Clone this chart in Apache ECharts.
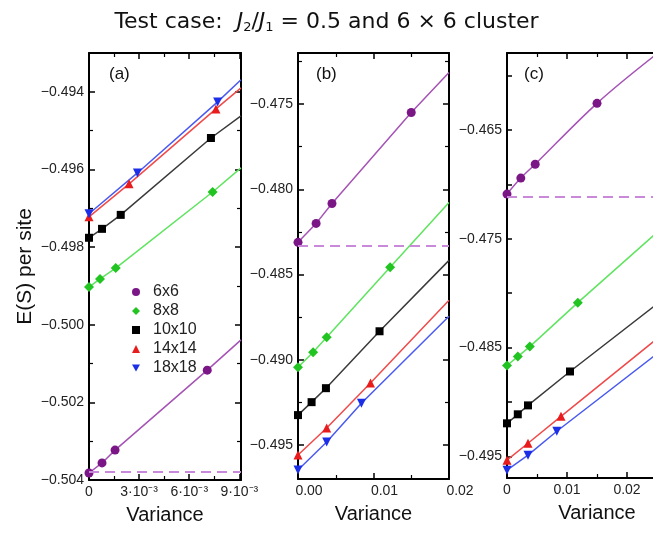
<!DOCTYPE html>
<html><head><meta charset="utf-8">
<script src="https://cdn.jsdelivr.net/npm/echarts@6/dist/echarts.min.js"></script>
<style>html,body{margin:0;padding:0;background:#fff}#c{width:653px;height:533px}</style>
</head><body><div id="c"></div>
<script>
// ---------- data ----------
const sizes = ['6x6', '8x8', '10x10', '14x14', '18x18'];

// Panel (a)
const a6x = [0, 0.00078, 0.00156, 0.00708],  a6y = [-0.50382, -0.50356, -0.50323, -0.50117];
const a8x = [0, 0.00066, 0.0016, 0.0074],    a8y = [-0.49903, -0.49882, -0.49854, -0.49658];
const a10x = [0, 0.00078, 0.0019, 0.0073],   a10y = [-0.49776, -0.49753, -0.49717, -0.49519];
const a14x = [0, 0.0024, 0.0076],            a14y = [-0.49722, -0.49637, -0.49444];
const a18x = [0, 0.0029, 0.0077],            a18y = [-0.49714, -0.49609, -0.49426];
const aFitEndX = 0.0091;
const aFitEndY = [-0.50039, -0.49596, -0.49462, -0.49390, -0.49369];
const aExtrap = -0.5038;

// Panel (b)
const b6x = [0, 0.0024, 0.0045, 0.015],      b6y = [-0.48311, -0.48200, -0.48083, -0.47549];
const b8x = [0, 0.002, 0.0038, 0.0122],      b8y = [-0.49044, -0.48956, -0.48868, -0.48458];
const b10x = [0, 0.0018, 0.0037, 0.0108],    b10y = [-0.49325, -0.49249, -0.49167, -0.48833];
const b14x = [0, 0.0038, 0.0096],            b14y = [-0.49559, -0.49401, -0.49137];
const b18x = [0, 0.0038, 0.0084],            b18y = [-0.49647, -0.49483, -0.49255];
const bFitEndX = 0.02;
const bFitEndY = [-0.47314, -0.48077, -0.48417, -0.48651, -0.48745];
const bExtrap = -0.4833;

// Panel (c)
const c6x = [0, 0.0023, 0.0047, 0.015],      c6y = [-0.47088, -0.46941, -0.46813, -0.46253];
const c8x = [0, 0.0018, 0.0038, 0.0118],     c8y = [-0.48665, -0.48583, -0.48491, -0.48087];
const c10x = [0, 0.0018, 0.0035, 0.0105],    c10y = [-0.49197, -0.49114, -0.49032, -0.48720];
const c14x = [0, 0.0035, 0.009],             c14y = [-0.49536, -0.49380, -0.49133];
const c18x = [0, 0.0035, 0.0083],            c18y = [-0.49628, -0.49490, -0.49270];
const cFitEndX = 0.0244;
const cFitEndY = [-0.45823, -0.47470, -0.48125, -0.48445, -0.48583];
const cExtrap = -0.4711;

// tick labels
const aXTicks = ['0', '3·10⁻³', '6·10⁻³', '9·10⁻³'];
const aYTicks = ['−0.494', '−0.496', '−0.498', '−0.500', '−0.502', '−0.504'];
const bXTicks = ['0.00', '0.01', '0.02'];
const bYTicks = ['−0.475', '−0.480', '−0.485', '−0.490', '−0.495'];
const cXTicks = ['0', '0.01', '0.02', '0.03'];
const cYTicks = ['−0.465', '−0.475', '−0.485', '−0.495'];
const cYTickValues = [-0.495, -0.490, -0.485, -0.480, -0.475, -0.470, -0.465, -0.460];
const cYLabelValues = [-0.495, -0.485, -0.475, -0.465];

// ---------- styling ----------
const FONT = '"Liberation Sans", Arial, sans-serif';
const markColors = ['#7b1687', '#22c422', '#000000', '#e81c1c', '#1c2ee6'];
const lineColors = ['#a553b5', '#5ee45e', '#3a3a3a', '#f04a4a', '#4a5af0'];
const dashColor = '#c88ad8';
const downTri = 'path://M0,0 L10,0 L5,9 Z';
const symbols = ['circle', 'diamond', 'rect', 'triangle', downTri];
const symSizes = [9, 10, 8, 9, 9];

function fmt(labels, start, step) {
  return function (v) {
    const k = Math.round((v - start) / step);
    if (k >= 0 && k < labels.length && Math.abs(v - (start + k * step)) < Math.abs(step) * 0.01) return labels[k];
    return '';
  };
}

const grids = [
  {left: 89, top: 53, width: 152, height: 427, outerBoundsMode: 'none', containLabel: false},
  {left: 298, top: 53, width: 151, height: 426, outerBoundsMode: 'none', containLabel: false},
  {left: 507, top: 53, width: 180, height: 425, outerBoundsMode: 'none', containLabel: false}
];

const xCfg = [
  {min: 0, max: 0.0091, interval: 0.003, f: fmt(aXTicks, 0, 0.003), pad: [0, 0, 0, 0]},
  {min: 0, max: 0.02, interval: 0.01, f: fmt(bXTicks, 0, 0.01), pad: [0, 0, 0, 22]},
  {min: 0, max: 0.03, interval: 0.01, f: fmt(cXTicks, 0, 0.01), pad: [0, 0, 0, 0]}
];
const yCfg = [
  {min: -0.504, max: -0.493, interval: 0.002, f: fmt(aYTicks, -0.494, -0.002)},
  {min: -0.497, max: -0.472, f: fmt(bYTicks, -0.475, -0.005)},
  {min: -0.497, max: -0.4579, f: fmt(cYTicks, -0.465, -0.01), tickVals: cYTickValues, labelVals: cYLabelValues}
];

const axisLine = {show: true, onZero: false, lineStyle: {color: '#000', width: 2}};
const axisTickBase = {show: true, inside: true, length: 6, lineStyle: {color: '#000', width: 1.5}};
const minorTickBase = {show: true, splitNumber: 2, length: 4, lineStyle: {color: '#000', width: 1.2}};
const labelStyle = {color: '#222', fontFamily: FONT, fontSize: 14};
const nameStyle = {color: '#111', fontFamily: FONT, fontSize: 20};

function mkAxis(cfg, p, extra) {
  const ax = {type: 'value', gridIndex: p, min: cfg.min, max: cfg.max, splitLine: {show: false},
    axisLine, axisTick: Object.assign({}, axisTickBase), minorTick: Object.assign({}, minorTickBase)};
  if (cfg.interval) ax.interval = cfg.interval;
  if (cfg.tickVals) {
    ax.axisTick.customValues = cfg.tickVals;
    ax.axisTick.length = 5;
    ax.minorTick = {show: false};
  }
  return Object.assign(ax, extra);
}

const xAxes = [], yAxes = [];
for (let p = 0; p < 3; p++) {
  xAxes.push(mkAxis(xCfg[p], p, {position: 'bottom', name: 'Variance', nameLocation: 'middle', nameGap: 25,
    nameMoveOverlap: false,
    nameTextStyle: nameStyle,
    axisLabel: Object.assign({margin: 5, formatter: xCfg[p].f, padding: xCfg[p].pad}, labelStyle)}));
}
for (let p = 0; p < 3; p++) {
  xAxes.push(mkAxis(xCfg[p], p, {position: 'top', axisLabel: {show: false}}));
}
for (let p = 0; p < 3; p++) {
  const lab = Object.assign({margin: 5, formatter: yCfg[p].f}, labelStyle);
  if (yCfg[p].labelVals) lab.customValues = yCfg[p].labelVals;
  const extra = {position: 'left', axisLabel: lab};
  if (p === 0) {
    extra.name = 'E(S) per site'; extra.nameLocation = 'middle'; extra.nameGap = 53;
    extra.nameMoveOverlap = false;
    extra.nameTextStyle = {color: '#111', fontFamily: FONT, fontSize: 21};
  }
  yAxes.push(mkAxis(yCfg[p], p, extra));
}
for (let p = 0; p < 3; p++) {
  yAxes.push(mkAxis(yCfg[p], p, {position: 'right', axisLabel: {show: false}}));
}

const panelX = [[a6x, a8x, a10x, a14x, a18x], [b6x, b8x, b10x, b14x, b18x], [c6x, c8x, c10x, c14x, c18x]];
const panelY = [[a6y, a8y, a10y, a14y, a18y], [b6y, b8y, b10y, b14y, b18y], [c6y, c8y, c10y, c14y, c18y]];
const fitEndX = [aFitEndX, bFitEndX, cFitEndX];
const fitEndY = [aFitEndY, bFitEndY, cFitEndY];
const extrap = [aExtrap, bExtrap, cExtrap];

const series = [];
for (let p = 0; p < 3; p++) {
  for (let s = 0; s < sizes.length; s++) {
    const xs = panelX[p][s], ys = panelY[p][s];
    const data = xs.map((x, i) => [x, ys[i]]);
    data.push({value: [fitEndX[p], fitEndY[p][s]], symbol: 'none'});
    const ser = {
      type: 'line', name: sizes[s], xAxisIndex: p, yAxisIndex: p, data,
      symbol: symbols[s], symbolSize: symSizes[s], showSymbol: true, showAllSymbol: true,
      itemStyle: {color: markColors[s]}, lineStyle: {color: lineColors[s], width: 1.5},
      smooth: (p === 2 && s === 0) ? 0.35 : false,
      animation: false, z: 3
    };
    if (s === 0) {
      ser.markLine = {silent: true, symbol: ['none', 'none'], animation: false, precision: 6,
        label: {show: false}, lineStyle: {color: dashColor, type: [10, 6], width: 2},
        data: [{yAxis: extrap[p]}]};
    }
    series.push(ser);
  }
}

const TFONT = '"DejaVu Sans", sans-serif';
const option = {
  backgroundColor: '#fff',
  animation: false,
  title: [
    {text: 'Test case:  {i|J}{s|2}{n|/}{i|J}{s|1}{n| = 0.5 and 6 × 6 cluster}', left: 'center', top: 6,
      textStyle: {fontFamily: TFONT, fontSize: 22, fontWeight: 'normal', color: '#111',
        rich: {i: {fontStyle: 'italic', fontSize: 22, fontFamily: TFONT, color: '#111'},
          s: {fontSize: 13, verticalAlign: 'bottom', padding: [10, 0, 0, 0], fontFamily: TFONT, color: '#111'},
          n: {fontSize: 22, fontFamily: TFONT, color: '#111'}}}},
    {text: '(a)', left: 104, top: 61, textStyle: {fontFamily: FONT, fontSize: 17, fontWeight: 'normal', color: '#111'}},
    {text: '(b)', left: 311, top: 61, textStyle: {fontFamily: FONT, fontSize: 17, fontWeight: 'normal', color: '#111'}},
    {text: '(c)', left: 519, top: 61, textStyle: {fontFamily: FONT, fontSize: 17, fontWeight: 'normal', color: '#111'}}
  ],
  legend: {
    orient: 'vertical', left: 132, top: 284, itemGap: 3, itemWidth: 8, itemHeight: 8, padding: 0,
    selectedMode: false,
    textStyle: {fontFamily: FONT, fontSize: 16, color: '#222', padding: [0, 0, 0, 8]},
    data: sizes.map((n, i) => ({name: n, icon: symbols[i], itemStyle: {color: markColors[i]}}))
  },
  grid: grids,
  xAxis: xAxes,
  yAxis: yAxes,
  series
};

const chart = echarts.init(document.getElementById('c'), null, {renderer: 'canvas'});
chart.setOption(option);
</script></body></html>
